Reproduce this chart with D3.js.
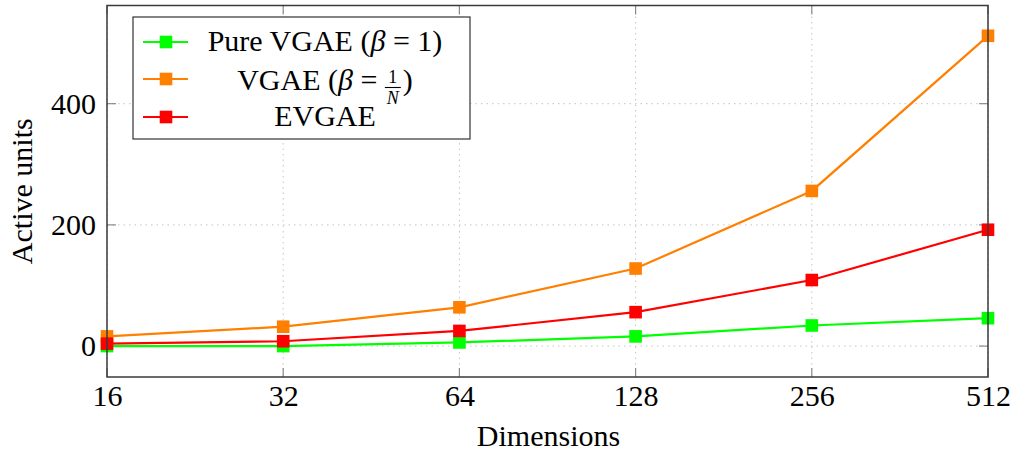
<!DOCTYPE html>
<html><head><meta charset="utf-8">
<script src="https://cdn.jsdelivr.net/npm/d3@7"></script>
<style>
html,body{margin:0;padding:0;background:#fff;}
</style></head>
<body><svg id="c" width="1017" height="456"></svg>
<script>
const dims = [16, 32, 64, 128, 256, 512];
const pureVGAE = [0, 0, 6, 16, 34, 46];
const vgaeN = [16, 32, 64, 128, 256, 512];
const evgae = [4, 8, 25, 56, 109, 192];
const yTicks = [0, 200, 400];
const seriesNames = ["Pure VGAE", "VGAE", "EVGAE"];
const seriesColors = ["#00ff00", "#ff8000", "#ff0000"];

const svg = d3.select("#c");
const L = 107, R = 988, T = 5.5, B = 377;
const x = d3.scaleLog().base(2).domain([16, 512]).range([L, R]);
const y = d3.scaleLinear().domain([-51, 562]).range([B, T]);

// pick an installed serif font if any
function widthOf(fam) {
  const t = svg.append("text").attr("font-size", 50).attr("font-family", fam).text("Dimensions mmWWiil 0123");
  const w = t.node().getComputedTextLength(); t.remove(); return w;
}
const base = widthOf("monospace");
const cands = ["Liberation Serif", "DejaVu Serif", "Noto Serif", "Tinos", "Times New Roman", "FreeSerif", "Times"];
let FAM = "serif";
for (const c of cands) { if (Math.abs(widthOf(`"${c}", monospace`) - base) > 0.5) { FAM = `"${c}", serif`; break; } }
svg.attr("font-family", FAM);

// calibrate font size so "Dimensions" is ~144px wide (as in reference)
const probe = svg.append("text").attr("font-size", 100).text("Dimensions");
const pw = probe.node().getComputedTextLength();
probe.remove();
const FS = Math.min(30, Math.max(20, 100 * 144 / pw));
const NBSP = "\u00A0";

// grid
const grid = svg.append("g").attr("stroke", "#c4c4c4").attr("stroke-width", 1).attr("stroke-dasharray", "1.5,4");
grid.selectAll(".gx").data(dims).join("line")
  .attr("x1", d => x(d)).attr("x2", d => x(d)).attr("y1", T).attr("y2", B);
grid.selectAll(".gy").data(yTicks).join("line")
  .attr("x1", L).attr("x2", R).attr("y1", d => y(d)).attr("y2", d => y(d));

// tick marks (inside, both sides)
const tk = svg.append("g").attr("stroke", "#8a8a8a").attr("stroke-width", 1.2);
const TL = 9;
dims.forEach(d => {
  tk.append("line").attr("x1", x(d)).attr("x2", x(d)).attr("y1", B).attr("y2", B - TL);
  tk.append("line").attr("x1", x(d)).attr("x2", x(d)).attr("y1", T).attr("y2", T + TL);
});
yTicks.forEach(d => {
  tk.append("line").attr("x1", L).attr("x2", L + TL).attr("y1", y(d)).attr("y2", y(d));
  tk.append("line").attr("x1", R).attr("x2", R - TL).attr("y1", y(d)).attr("y2", y(d));
});

// axis tick labels
const xAxis = d3.axisBottom(x).tickValues(dims).tickFormat(d3.format("d")).tickSize(0).tickPadding(0);
const gx = svg.append("g").attr("transform", `translate(0,${B})`).call(xAxis);
gx.attr("font-family", null);
gx.select(".domain").remove();
gx.selectAll("text").attr("font-size", FS).attr("fill", "#000").attr("dy", null).attr("y", 29);

const yAxis = d3.axisLeft(y).tickValues(yTicks).tickFormat(d3.format("d")).tickSize(0).tickPadding(0);
const gy = svg.append("g").attr("transform", `translate(${L - 11},0)`).call(yAxis);
gy.attr("font-family", null);
gy.select(".domain").remove();
gy.selectAll("text").attr("font-size", FS).attr("fill", "#000").attr("dy", "0.33em").attr("x", 0);

// lines & markers
const data = [pureVGAE, vgaeN, evgae];
const line = d3.line().x((d, i) => x(dims[i])).y(d => y(d));
const plot = svg.append("g");
data.forEach((s, k) => {
  plot.append("path").datum(s).attr("d", line).attr("fill", "none")
    .attr("stroke", seriesColors[k]).attr("stroke-width", 2.2);
  plot.selectAll(null).data(s).join("rect")
    .attr("x", (d, i) => x(dims[i]) - 6.3).attr("y", d => y(d) - 6.3)
    .attr("width", 12.6).attr("height", 12.6).attr("fill", seriesColors[k]);
});

// frame
svg.append("rect").attr("x", L).attr("y", T).attr("width", R - L).attr("height", B - T)
  .attr("fill", "none").attr("stroke", "#3a3a3a").attr("stroke-width", 1.5);

// axis titles
svg.append("text").attr("x", (L + R) / 2 + 1).attr("y", 446).attr("text-anchor", "middle")
  .attr("font-size", FS).text("Dimensions");
svg.append("text").attr("transform", `translate(32,${(T + B) / 2}) rotate(-90)`)
  .attr("text-anchor", "middle").attr("font-size", FS).text("Active units");

// legend
const lg = svg.append("g");
lg.append("rect").attr("x", 133).attr("y", 17).attr("width", 337).attr("height", 122)
  .attr("fill", "#fff").attr("stroke", "#333").attr("stroke-width", 1.2);
const rowsY = [42, 79, 117];
const cx = 325;
rowsY.forEach((ry, k) => {
  lg.append("line").attr("x1", 143).attr("x2", 188).attr("y1", ry).attr("y2", ry)
    .attr("stroke", seriesColors[k]).attr("stroke-width", 2.2);
  lg.append("rect").attr("x", 166 - 6.3).attr("y", ry - 6.3).attr("width", 12.6).attr("height", 12.6)
    .attr("fill", seriesColors[k]);
});
// row 1
const t1 = lg.append("text").attr("x", cx).attr("y", 51).attr("text-anchor", "middle").attr("font-size", FS);
t1.append("tspan").text(seriesNames[0] + NBSP + "(");
t1.append("tspan").attr("font-style", "italic").text("β");
t1.append("tspan").text(NBSP + "=" + NBSP + "1)");
// row 2 with fraction
const g2 = lg.append("g");
const a = g2.append("text").attr("y", 90).attr("font-size", FS);
a.append("tspan").text(seriesNames[1] + NBSP + "(");
a.append("tspan").attr("font-style", "italic").text("β");
a.append("tspan").text(NBSP + "=" + NBSP);
const wA = a.node().getComputedTextLength();
const fFS = 18;
const fn = g2.append("text").attr("y", 83).attr("font-size", fFS).attr("text-anchor", "middle").text("1");
const fd = g2.append("text").attr("y", 104).attr("font-size", fFS).attr("font-style", "italic").attr("text-anchor", "middle").text("N");
const fw = Math.max(fn.node().getComputedTextLength(), fd.node().getComputedTextLength()) + 4;
const c = g2.append("text").attr("y", 90).attr("font-size", FS).text(")");
const wC = c.node().getComputedTextLength();
const total = wA + fw + wC + 2;
const sx = cx - total / 2;
a.attr("x", sx);
fn.attr("x", sx + wA + fw / 2);
fd.attr("x", sx + wA + fw / 2);
g2.append("line").attr("x1", sx + wA).attr("x2", sx + wA + fw).attr("y1", 87.5).attr("y2", 87.5)
  .attr("stroke", "#000").attr("stroke-width", 1.1);
c.attr("x", sx + wA + fw + 2);
// row 3
lg.append("text").attr("x", cx).attr("y", 126).attr("text-anchor", "middle").attr("font-size", FS).text(seriesNames[2]);
</script></body></html>
